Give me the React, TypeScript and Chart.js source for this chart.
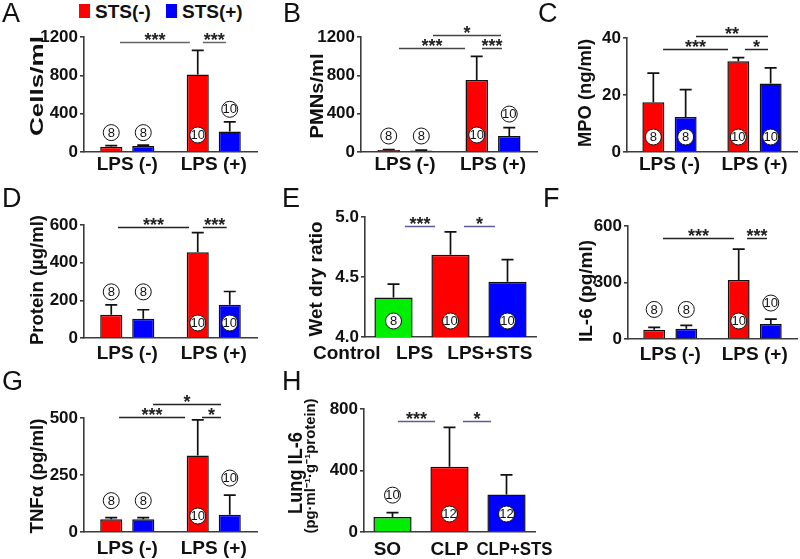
import React, { useEffect, useRef } from "react";
import { Chart, registerables } from "chart.js";
Chart.register(...registerables);

const FONT = "'Liberation Sans', Arial, Helvetica, sans-serif";
const RED = "#ff0000";
const BLUE = "#0000ff";
const GREEN = "#00ee00";
const INK = "#111111";
const AXIS = "#3c3c3c";
const W = 800;
const H = 559;
const YW = 60;
const XH = 20;

// ---------------- data ----------------
const legendLabels = ["STS(-)", "STS(+)"];
const legendColors = [RED, BLUE];

const lpsGroups = ["LPS (-)", "LPS (+)"];
const lungGroups = ["Control", "LPS", "LPS+STS"];
const clpGroups = ["SO", "CLP", "CLP+STS"];

// A: BAL cells
const cellsTicks = [0, 400, 800, 1200];
const cellsStsNeg = [55, 810];
const cellsStsNegSD = [12, 250];
const cellsStsPos = [62, 215];
const cellsStsPosSD = [10, 100];
const cellsNNeg = [8, 10];
const cellsNPos = [8, 10];

// B: PMNs
const pmnTicks = [0, 400, 800, 1200];
const pmnStsNeg = [20, 752];
const pmnStsNegSD = [6, 245];
const pmnStsPos = [15, 168];
const pmnStsPosSD = [5, 87];
const pmnNNeg = [8, 10];
const pmnNPos = [8, 10];

// C: MPO
const mpoTicks = [0, 20, 40];
const mpoStsNeg = [17.5, 31.8];
const mpoStsNegSD = [10.2, 1.3];
const mpoStsPos = [12.3, 24];
const mpoStsPosSD = [9.6, 5.5];
const mpoNNeg = [8, 10];
const mpoNPos = [8, 10];

// D: protein
const protTicks = [0, 200, 400, 600];
const protStsNeg = [124, 455];
const protStsNegSD = [52, 105];
const protStsPos = [102, 176];
const protStsPosSD = [48, 71];
const protNNeg = [8, 10];
const protNPos = [8, 10];

// E: wet/dry ratio
const wetTicks = [4.0, 4.5, 5.0];
const wetValues = [4.33, 4.686, 4.46];
const wetSD = [0.11, 0.19, 0.184];
const wetN = [8, 10, 10];

// F: IL-6
const il6Ticks = [0, 300, 600];
const il6StsNeg = [49, 313];
const il6StsNegSD = [13, 164];
const il6StsPos = [55, 79];
const il6StsPosSD = [17, 27];
const il6NNeg = [8, 10];
const il6NPos = [8, 10];

// G: TNFa
const tnfTicks = [0, 250, 500];
const tnfStsNeg = [56, 335];
const tnfStsNegSD = [7, 157];
const tnfStsPos = [56, 76];
const tnfStsPosSD = [7, 86];
const tnfNNeg = [8, 10];
const tnfNPos = [8, 10];

// H: lung IL-6
const lungIl6Ticks = [0, 400, 800];
const lungIl6Values = [98, 425, 244];
const lungIl6SD = [28, 255, 127];
const lungIl6N = [10, 12, 12];

// ---------------- panel layout ----------------
type Series = { values: number[]; sd: number[]; colors: string[]; n: number[]; inside: boolean[] };
type Sig = { from: number; to: number; at: number; stars: string };
type Title = { text: string; x: number; y: number; len: number; size: number };
type Panel = {
  id: string;
  letter: string;
  letterPos: [number, number];
  area: [number, number, number, number];
  labels: string[];
  labelShift: number[];
  labelMaxW: number[];
  labelDy: number;
  ticks: number[];
  decimals: number;
  series: Series[];
  catPct: number;
  barPct: number;
  sigs: Sig[];
  sigColor: string;
  titles: Title[];
  gap: number;
  inset: number;
};

const two = (
  neg: number[], negSD: number[], pos: number[], posSD: number[],
  nNeg: number[], nPos: number[], inNeg: boolean[], inPos: boolean[]
): Series[] => [
  { values: neg, sd: negSD, colors: [RED, RED], n: nNeg, inside: inNeg },
  { values: pos, sd: posSD, colors: [BLUE, BLUE], n: nPos, inside: inPos },
];

const panels: Panel[] = [
  {
    id: "A", letter: "A", letterPos: [2, 22], area: [84, 37, 257, 152],
    labels: lpsGroups, labelShift: [0, 0], labelMaxW: [0, 0], labelDy: 13,
    ticks: cellsTicks, decimals: 0,
    series: two(cellsStsNeg, cellsStsNegSD, cellsStsPos, cellsStsPosSD, cellsNNeg, cellsNPos, [false, true], [false, false]),
    catPct: 0.74, barPct: 0.69,
    sigs: [
      { from: -0.084, to: 0.724, at: 1148, stars: "***" },
      { from: 0.874, to: 1.14, at: 1148, stars: "***" },
    ],
    sigColor: "#666",
    titles: [{ text: "Cells/ml", x: 38, y: 86, len: 100, size: 19 }],
    gap: 12.5, inset: 17,
  },
  {
    id: "B", letter: "B", letterPos: [283, 22], area: [361, 37, 537, 152],
    labels: lpsGroups, labelShift: [0, 0], labelMaxW: [0, 0], labelDy: 12.5,
    ticks: pmnTicks, decimals: 0,
    series: two(pmnStsNeg, pmnStsNegSD, pmnStsPos, pmnStsPosSD, pmnNNeg, pmnNPos, [false, true], [false, false]),
    catPct: 0.74, barPct: 0.69,
    sigs: [
      { from: -0.068, to: 0.682, at: 1085, stars: "***" },
      { from: 0.318, to: 1.091, at: 1220, stars: "*" },
      { from: 0.875, to: 1.102, at: 1085, stars: "***" },
    ],
    sigColor: "#444",
    titles: [{ text: "PMNs/ml", x: 318, y: 96, len: 85, size: 19 }],
    gap: 13.5, inset: 17,
  },
  {
    id: "C", letter: "C", letterPos: [538, 22], area: [627, 38, 797, 152],
    labels: lpsGroups, labelShift: [0, 0], labelMaxW: [0, 0], labelDy: 12.5,
    ticks: mpoTicks, decimals: 0,
    series: two(mpoStsNeg, mpoStsNegSD, mpoStsPos, mpoStsPosSD, mpoNNeg, mpoNPos, [true, true], [true, true]),
    catPct: 0.76, barPct: 0.68,
    sigs: [
      { from: -0.076, to: 0.688, at: 36.1, stars: "***" },
      { from: 0.312, to: 1.159, at: 40.7, stars: "**" },
      { from: 0.888, to: 1.159, at: 36.1, stars: "*" },
    ],
    sigColor: "#222",
    titles: [{ text: "MPO (ng/ml)", x: 586, y: 93, len: 108, size: 19 }],
    gap: 13, inset: 15,
  },
  {
    id: "D", letter: "D", letterPos: [2, 207], area: [84, 225, 257, 338],
    labels: lpsGroups, labelShift: [0, 0], labelMaxW: [0, 0], labelDy: 15.5,
    ticks: protTicks, decimals: 0,
    series: two(protStsNeg, protStsNegSD, protStsPos, protStsPosSD, protNNeg, protNPos, [false, true], [false, true]),
    catPct: 0.74, barPct: 0.69,
    sigs: [
      { from: -0.107, to: 0.714, at: 591, stars: "***" },
      { from: 0.874, to: 1.15, at: 591, stars: "***" },
    ],
    sigColor: "#222",
    titles: [{ text: "Protein (\u00b5g/ml)", x: 38, y: 280, len: 130, size: 19 }],
    gap: 13, inset: 15,
  },
  {
    id: "E", letter: "E", letterPos: [282, 207], area: [365, 217, 536, 337],
    labels: lungGroups, labelShift: [-0.82, -0.63, -0.31], labelMaxW: [0, 0, 0], labelDy: 17,
    ticks: wetTicks, decimals: 1,
    series: [{ values: wetValues, sd: wetSD, colors: [GREEN, RED, BLUE], n: wetN, inside: [true, true, true] }],
    catPct: 1, barPct: 0.67,
    sigs: [
      { from: 0.2, to: 0.728, at: 4.925, stars: "***" },
      { from: 1.237, to: 1.78, at: 4.925, stars: "*" },
    ],
    sigColor: "#5b5b9b",
    titles: [{ text: "Wet dry ratio", x: 317, y: 279, len: 115, size: 19 }],
    gap: 13, inset: 16,
  },
  {
    id: "F", letter: "F", letterPos: [543, 207], area: [628, 226, 797, 339],
    labels: lpsGroups, labelShift: [0, 0], labelMaxW: [0, 0], labelDy: 16,
    ticks: il6Ticks, decimals: 0,
    series: two(il6StsNeg, il6StsNegSD, il6StsPos, il6StsPosSD, il6NNeg, il6NPos, [false, true], [false, false]),
    catPct: 0.76, barPct: 0.68,
    sigs: [
      { from: -0.086, to: 0.754, at: 536, stars: "***" },
      { from: 0.908, to: 1.145, at: 536, stars: "***" },
    ],
    sigColor: "#222",
    titles: [{ text: "IL-6 (pg/ml)", x: 587, y: 291, len: 102, size: 19 }],
    gap: 16, inset: 18,
  },
  {
    id: "G", letter: "G", letterPos: [2, 390], area: [84, 418, 257, 532],
    labels: lpsGroups, labelShift: [0, 0], labelMaxW: [0, 0], labelDy: 16.5,
    ticks: tnfTicks, decimals: 0,
    series: two(tnfStsNeg, tnfStsNegSD, tnfStsPos, tnfStsPosSD, tnfNNeg, tnfNPos, [false, true], [false, false]),
    catPct: 0.74, barPct: 0.69,
    sigs: [
      { from: -0.095, to: 0.668, at: 504, stars: "***" },
      { from: 0.298, to: 1.084, at: 561, stars: "*" },
      { from: 0.864, to: 1.084, at: 504, stars: "*" },
    ],
    sigColor: "#222",
    titles: [{ text: "TNF\u03b1 (pg/ml)", x: 38, y: 476, len: 115, size: 19 }],
    gap: 17, inset: 16,
  },
  {
    id: "H", letter: "H", letterPos: [282, 390], area: [364, 409, 535, 532],
    labels: clpGroups, labelShift: [-0.09, 0, 0.14], labelMaxW: [0, 0, 76], labelDy: 17.5,
    ticks: lungIl6Ticks, decimals: 0,
    series: [{ values: lungIl6Values, sd: lungIl6SD, colors: [GREEN, RED, BLUE], n: lungIl6N, inside: [false, true, true] }],
    catPct: 1, barPct: 0.67,
    sigs: [
      { from: 0.096, to: 0.746, at: 721, stars: "***" },
      { from: 1.237, to: 1.728, at: 721, stars: "*" },
    ],
    sigColor: "#5b5b9b",
    titles: [
      { text: "Lung IL-6", x: 296, y: 473, len: 82, size: 20 },
      { text: "(pg\u00b7ml\u207b\u00b9\u00b7g\u207b\u00b9protein)", x: 311, y: 466, len: 135, size: 14 },
    ],
    gap: 17.5, inset: 18,
  },
];

function overlay(p: Panel) {
  return {
    id: "overlay" + p.id,
    afterDraw(chart: any) {
      const ctx = chart.ctx as CanvasRenderingContext2D;
      const xs = chart.scales.x;
      const ys = chart.scales.y;
      ctx.save();
      // error bars
      ctx.strokeStyle = INK;
      ctx.lineWidth = 1.7;
      const outTop: number[] = p.labels.map(() => Infinity);
      p.series.forEach((s, di) => {
        const meta = chart.getDatasetMeta(di);
        meta.data.forEach((el: any, i: number) => {
          const top = ys.getPixelForValue(s.values[i] + s.sd[i]);
          const cw = Math.min(12, el.width * 0.55);
          ctx.beginPath();
          ctx.moveTo(el.x, el.y);
          ctx.lineTo(el.x, top);
          ctx.moveTo(el.x - cw / 2, top);
          ctx.lineTo(el.x + cw / 2, top);
          ctx.stroke();
          if (!s.inside[i]) outTop[i] = Math.min(outTop[i], top);
        });
      });
      // n circles
      p.series.forEach((s, di) => {
        const meta = chart.getDatasetMeta(di);
        meta.data.forEach((el: any, i: number) => {
          const cy = s.inside[i] ? ys.bottom - p.inset : outTop[i] - p.gap;
          ctx.beginPath();
          ctx.arc(el.x, cy, 8, 0, Math.PI * 2);
          ctx.fillStyle = "#ffffff";
          ctx.fill();
          ctx.lineWidth = 1;
          ctx.strokeStyle = INK;
          ctx.stroke();
          ctx.fillStyle = INK;
          ctx.font = `13px ${FONT}`;
          ctx.textAlign = "center";
          ctx.textBaseline = "middle";
          ctx.fillText(String(s.n[i]), el.x, cy + 0.5);
        });
      });
      // significance bars
      p.sigs.forEach((g) => {
        const x1 = xs.getPixelForValue(g.from);
        const x2 = xs.getPixelForValue(g.to);
        const y = Math.round(ys.getPixelForValue(g.at)) + 0.5;
        ctx.strokeStyle = p.sigColor;
        ctx.lineWidth = 1.5;
        ctx.beginPath();
        ctx.moveTo(x1, y);
        ctx.lineTo(x2, y);
        ctx.stroke();
        ctx.fillStyle = "#222";
        ctx.font = `bold 18px ${FONT}`;
        ctx.textAlign = "center";
        ctx.textBaseline = "alphabetic";
        ctx.fillText(g.stars, (x1 + x2) / 2, y + 3);
      });
      // category labels
      ctx.fillStyle = INK;
      ctx.font = `bold 19px ${FONT}`;
      ctx.textAlign = "center";
      ctx.textBaseline = "middle";
      p.labels.forEach((lab, i) => {
        const lx = xs.getPixelForValue(i + p.labelShift[i]);
        const ly = ys.bottom + p.labelDy;
        if (p.labelMaxW[i] > 0) ctx.fillText(lab, lx, ly, p.labelMaxW[i]);
        else ctx.fillText(lab, lx, ly);
      });
      // axis titles (rotated)
      p.titles.forEach((t) => {
        ctx.save();
        ctx.translate(t.x, t.y);
        ctx.rotate(-Math.PI / 2);
        ctx.font = `bold ${t.size}px ${FONT}`;
        const w = ctx.measureText(t.text).width;
        ctx.scale(t.len / w, 1);
        ctx.fillStyle = INK;
        ctx.textAlign = "center";
        ctx.textBaseline = "middle";
        ctx.fillText(t.text, 0, 0);
        ctx.restore();
      });
      // panel letter
      ctx.fillStyle = INK;
      ctx.font = `27px ${FONT}`;
      ctx.textAlign = "left";
      ctx.textBaseline = "alphabetic";
      ctx.fillText(p.letter, p.letterPos[0], p.letterPos[1]);
      ctx.restore();
    },
  };
}

function makeConfig(p: Panel): any {
  const [left, top, right, bottom] = p.area;
  const t = p.ticks;
  return {
    type: "bar",
    data: {
      labels: p.labels,
      datasets: p.series.map((s) => ({
        data: s.values,
        backgroundColor: s.colors,
        borderColor: INK,
        borderWidth: 1.5,
        categoryPercentage: p.catPct,
        barPercentage: p.barPct,
      })),
    },
    options: {
      responsive: false,
      animation: false,
      devicePixelRatio: 1,
      layout: {
        padding: { left: left - YW, top: top, right: W - right, bottom: H - bottom - XH },
      },
      plugins: { legend: { display: false }, tooltip: { enabled: false }, title: { display: false } },
      scales: {
        x: {
          type: "category",
          offset: true,
          grid: { display: false },
          border: { display: true, color: AXIS, width: 1.6 },
          ticks: { display: false },
          afterFit: (s: any) => {
            s.height = XH;
          },
        },
        y: {
          min: t[0],
          max: t[t.length - 1],
          grid: { display: true, drawOnChartArea: false, drawTicks: true, tickLength: 4, color: AXIS, lineWidth: 1.6 },
          border: { display: true, color: AXIS, width: 1.6 },
          ticks: {
            stepSize: t[1] - t[0],
            color: INK,
            font: { family: FONT, size: 17, weight: "bold" },
            padding: 2,
            callback: (v: any) => Number(v).toFixed(p.decimals),
          },
          afterFit: (s: any) => {
            s.width = YW;
          },
        },
      },
    },
    plugins: [overlay(p)],
  };
}

function PanelChart({ p }: { p: Panel }) {
  const ref = useRef<HTMLCanvasElement>(null);
  useEffect(() => {
    const chart = new Chart(ref.current as HTMLCanvasElement, makeConfig(p));
    return () => chart.destroy();
  }, [p]);
  return (
    <canvas
      ref={ref}
      width={W}
      height={H}
      style={{ position: "absolute", left: 0, top: 0, width: W, height: H }}
    />
  );
}

const legendBoxX = [79, 166];
const legendTextX = [95, 182];

export default function App() {
  return (
    <div style={{ position: "absolute", left: 0, top: 0, width: W, height: H, background: "#fff", overflow: "hidden" }}>
      {legendLabels.map((lab, i) => (
        <React.Fragment key={lab}>
          <div
            style={{
              position: "absolute",
              left: legendBoxX[i],
              top: 4,
              width: 11,
              height: 14,
              background: legendColors[i],
            }}
          />
          <div
            style={{
              position: "absolute",
              left: legendTextX[i],
              top: 2,
              font: `bold 19px ${FONT}`,
              lineHeight: "19px",
              color: INK,
              whiteSpace: "nowrap",
            }}
          >
            {lab}
          </div>
        </React.Fragment>
      ))}
      {panels.map((p) => (
        <PanelChart key={p.id} p={p} />
      ))}
    </div>
  );
}
